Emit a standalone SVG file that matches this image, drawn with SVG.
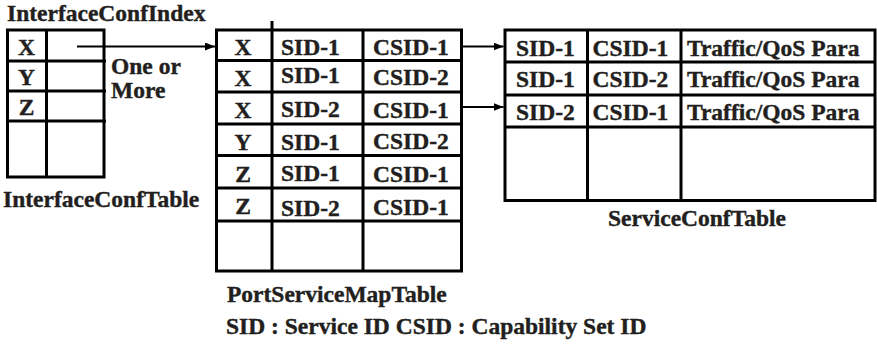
<svg xmlns="http://www.w3.org/2000/svg" width="877" height="349" viewBox="0 0 877 349">
<defs>
<style>
.g{fill:none;stroke:#000;stroke-width:3}
.t{font-family:"Liberation Serif","Times New Roman",serif;font-weight:bold;font-size:23.5px;fill:#231f20;stroke:#231f20;stroke-width:0.4}
.m{text-anchor:middle}
.c{stroke:#000;stroke-width:2;fill:none}
</style>
<marker id="ah" viewBox="0 0 10 8" refX="10" refY="4" markerWidth="10" markerHeight="8" markerUnits="userSpaceOnUse" orient="auto">
<path d="M0,0 L10,4 L0,8 Z" fill="#000"/>
</marker>
</defs>
<rect width="877" height="349" fill="#fff"/>
<g id="interfaceConfTable">
<text class="t" x="7" y="20.5">InterfaceConfIndex</text>
<rect class="g" x="7.5" y="30" width="96.5" height="147"/>
<path class="g" d="M46.5 30V177M7.5 61H106M7.5 91H106M7.5 121H106"/>
<text class="t m" x="26.5" y="55">X</text>
<text class="t m" x="26.5" y="85">Y</text>
<text class="t m" x="26.5" y="114.5">Z</text>
<text class="t" x="3" y="206.5">InterfaceConfTable</text>
</g>
<g id="oneOrMore">
<text class="t" x="111" y="74">One or</text>
<text class="t" x="111" y="98">More</text>
</g>
<g id="portServiceMapTable">
<rect class="g" x="216.5" y="30" width="245" height="241"/>
<path class="g" d="M272 21V271M363 30V271M216.5 60.5H461.5M216.5 92H461.5M216.5 124H461.5M216.5 155.5H461.5M216.5 188H461.5M216.5 221H461.5"/>
<text class="t m" x="243" y="55">X</text>
<text class="t" x="281" y="55">SID-1</text>
<text class="t" x="373" y="55">CSID-1</text>
<text class="t m" x="243" y="86">X</text>
<text class="t" x="281" y="83">SID-1</text>
<text class="t" x="373" y="85">CSID-2</text>
<text class="t m" x="243" y="118">X</text>
<text class="t" x="281" y="117">SID-2</text>
<text class="t" x="373" y="118">CSID-1</text>
<text class="t m" x="243" y="150">Y</text>
<text class="t" x="281" y="150">SID-1</text>
<text class="t" x="373" y="149">CSID-2</text>
<text class="t m" x="243" y="182">Z</text>
<text class="t" x="281" y="181">SID-1</text>
<text class="t" x="373" y="182">CSID-1</text>
<text class="t m" x="243" y="214">Z</text>
<text class="t" x="281" y="216">SID-2</text>
<text class="t" x="373" y="215">CSID-1</text>
<text class="t" x="227" y="302">PortServiceMapTable</text>
</g>
<g id="serviceConfTable">
<rect class="g" x="505" y="30" width="370" height="170.5"/>
<path class="g" d="M587.5 30V200.5M681 30V200.5M505 62H875M505 95H875M505 127H875"/>
<text class="t" x="516" y="56">SID-1</text>
<text class="t" x="592.5" y="56">CSID-1</text>
<text class="t" x="687" y="56">Traffic/QoS Para</text>
<text class="t" x="516" y="87">SID-1</text>
<text class="t" x="592.5" y="87">CSID-2</text>
<text class="t" x="687" y="87">Traffic/QoS Para</text>
<text class="t" x="516" y="120">SID-2</text>
<text class="t" x="592.5" y="120">CSID-1</text>
<text class="t" x="687" y="120">Traffic/QoS Para</text>
<text class="t" x="608" y="226">ServiceConfTable</text>
</g>
<g id="legend">
<text class="t" x="226" y="334">SID : Service ID CSID : Capability Set ID</text>
</g>
<g id="connectors">
<line class="c" x1="77" y1="46.5" x2="215" y2="46.5" marker-end="url(#ah)"/>
<line class="c" x1="463" y1="46.5" x2="503.5" y2="46.5" marker-end="url(#ah)"/>
<line class="c" x1="463" y1="107" x2="503.5" y2="107" marker-end="url(#ah)"/>
</g>
</svg>
